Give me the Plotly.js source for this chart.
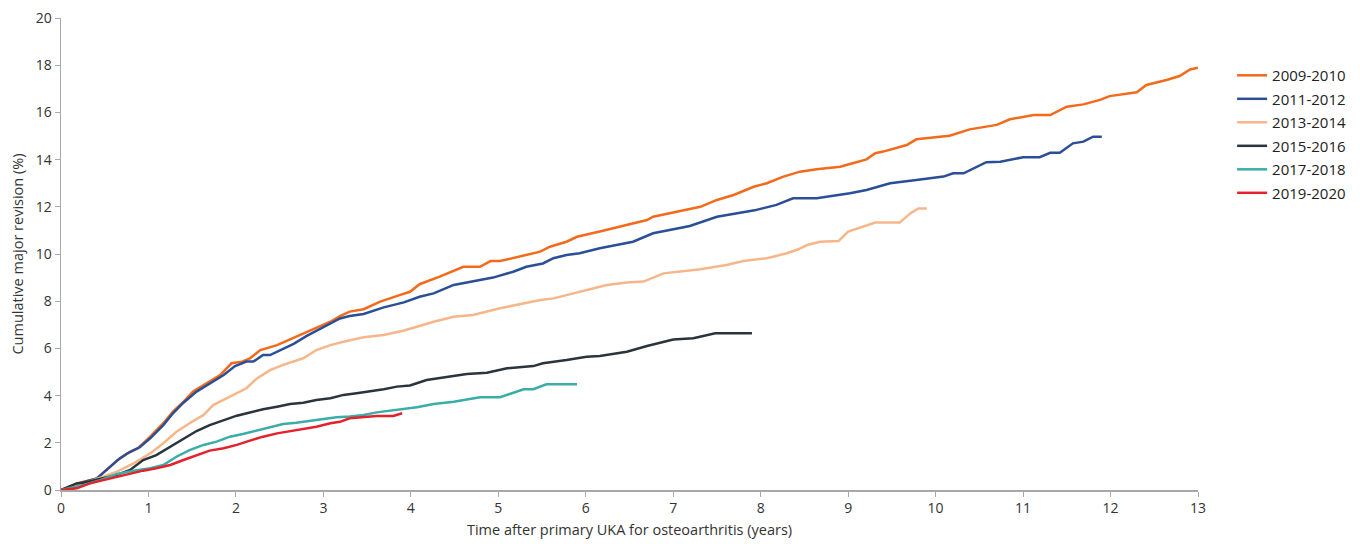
<!DOCTYPE html>
<html>
<head>
<meta charset="utf-8">
<script src="https://cdn.plot.ly/plotly-3.0.1.min.js"></script>
<style>html,body{margin:0;padding:0;background:#fff;}#chart{width:1360px;height:544px;}</style>
</head>
<body>
<div id="chart"></div>
<script>
const seriesNames = ["2009-2010","2011-2012","2013-2014","2015-2016","2017-2018","2019-2020"];
const seriesColors = ["#F26A1B","#2A4F96","#F7B689","#2A343B","#3AADA8","#E3222B"];

const x2009 = [0,0.18,0.41,0.48,0.64,0.75,0.88,1.02,1.17,1.28,1.40,1.51,1.67,1.82,1.95,2.07,2.16,2.28,2.47,2.62,2.77,2.92,3.08,3.19,3.30,3.46,3.65,3.88,3.99,4.10,4.33,4.60,4.79,4.91,5.02,5.48,5.59,5.78,5.90,6.16,6.70,6.77,7.31,7.50,7.69,7.92,8.07,8.26,8.45,8.64,8.91,9.02,9.21,9.31,9.40,9.67,9.78,10.16,10.39,10.70,10.85,11.12,11.31,11.50,11.69,11.88,11.99,12.30,12.41,12.64,12.79,12.91,13.0];
const y2009 = [0,0.28,0.49,0.71,1.24,1.53,1.77,2.26,2.83,3.32,3.74,4.17,4.55,4.87,5.37,5.44,5.58,5.93,6.14,6.38,6.64,6.85,7.13,7.37,7.56,7.66,7.98,8.27,8.40,8.72,9.04,9.46,9.46,9.70,9.70,10.10,10.31,10.52,10.73,10.95,11.44,11.58,12.0,12.29,12.5,12.85,13.0,13.28,13.49,13.59,13.70,13.81,14.01,14.27,14.34,14.62,14.86,15.01,15.28,15.47,15.71,15.89,15.89,16.24,16.34,16.53,16.69,16.85,17.16,17.37,17.54,17.82,17.89];

const x2011 = [0,0.18,0.41,0.52,0.67,0.79,0.90,1.02,1.17,1.28,1.40,1.55,1.70,1.86,1.99,2.12,2.20,2.31,2.39,2.54,2.66,2.81,2.92,3.08,3.19,3.30,3.46,3.69,3.92,4.10,4.26,4.49,4.71,4.94,5.17,5.32,5.51,5.63,5.78,5.93,6.16,6.35,6.54,6.77,7.0,7.19,7.50,7.76,7.93,8.18,8.37,8.64,9.02,9.21,9.48,9.78,10.09,10.20,10.32,10.58,10.74,11.0,11.19,11.31,11.42,11.57,11.69,11.80,11.90];
const y2011 = [0,0.25,0.49,0.85,1.34,1.62,1.81,2.19,2.75,3.25,3.70,4.17,4.52,4.87,5.25,5.44,5.44,5.72,5.72,6.0,6.19,6.53,6.74,7.06,7.27,7.37,7.46,7.74,7.95,8.19,8.33,8.69,8.83,9.0,9.25,9.46,9.6,9.82,9.96,10.03,10.24,10.38,10.52,10.88,11.06,11.19,11.58,11.75,11.85,12.08,12.36,12.36,12.57,12.71,13.0,13.14,13.28,13.42,13.42,13.89,13.91,14.10,14.10,14.29,14.29,14.69,14.76,14.97,14.97];

const x2013 = [0,0.26,0.45,0.64,0.83,1.02,1.17,1.32,1.47,1.63,1.74,1.89,2.01,2.12,2.24,2.39,2.54,2.77,2.92,3.08,3.23,3.46,3.69,3.91,4.07,4.26,4.49,4.71,5.02,5.29,5.48,5.63,5.86,6.01,6.24,6.47,6.66,6.89,7.19,7.31,7.61,7.80,8.07,8.30,8.43,8.53,8.68,8.89,9.0,9.17,9.31,9.59,9.71,9.80,9.90];
const y2013 = [0,0.28,0.52,0.78,1.13,1.55,1.98,2.47,2.83,3.18,3.60,3.89,4.10,4.31,4.73,5.08,5.30,5.58,5.93,6.14,6.28,6.47,6.57,6.75,6.92,7.13,7.34,7.42,7.70,7.91,8.05,8.12,8.33,8.47,8.69,8.79,8.83,9.18,9.32,9.35,9.53,9.70,9.82,10.03,10.20,10.38,10.52,10.55,10.95,11.16,11.33,11.33,11.72,11.93,11.93];

const x2015 = [0,0.18,0.26,0.45,0.64,0.79,0.94,1.09,1.25,1.40,1.55,1.70,1.86,2.01,2.16,2.31,2.47,2.62,2.77,2.92,3.08,3.23,3.38,3.53,3.69,3.84,3.99,4.18,4.45,4.64,4.87,5.10,5.40,5.51,5.78,6.01,6.16,6.47,6.70,7.0,7.23,7.48,7.90];
const y2015 = [0,0.28,0.31,0.49,0.64,0.85,1.27,1.48,1.84,2.19,2.50,2.75,2.97,3.15,3.28,3.42,3.53,3.64,3.70,3.81,3.89,4.03,4.10,4.17,4.27,4.38,4.43,4.66,4.80,4.92,4.97,5.16,5.25,5.37,5.51,5.65,5.68,5.86,6.10,6.38,6.43,6.64,6.64];

const x2017 = [0,0.26,0.45,0.64,0.83,1.02,1.17,1.32,1.47,1.63,1.78,1.93,2.08,2.24,2.39,2.54,2.69,2.85,3.0,3.15,3.30,3.46,3.61,3.76,3.91,4.07,4.26,4.49,4.79,5.02,5.13,5.29,5.40,5.55,5.90];
const y2017 = [0,0.21,0.42,0.68,0.82,0.92,1.06,1.41,1.69,1.91,2.05,2.26,2.37,2.51,2.66,2.80,2.85,2.94,3.0,3.08,3.11,3.18,3.29,3.36,3.44,3.51,3.64,3.74,3.93,3.93,4.07,4.27,4.27,4.48,4.48];

const x2019 = [0,0.18,0.33,0.48,0.64,0.79,0.94,1.09,1.25,1.40,1.55,1.70,1.86,2.01,2.16,2.31,2.47,2.62,2.77,2.92,3.08,3.19,3.30,3.46,3.61,3.80,3.90];
const y2019 = [0,0.07,0.28,0.42,0.56,0.71,0.82,0.92,1.06,1.27,1.48,1.67,1.77,1.91,2.09,2.26,2.40,2.50,2.57,2.68,2.83,2.89,3.04,3.08,3.14,3.14,3.25];

const xTickVals = [0,1,2,3,4,5,6,7,8,9,10,11,12,13];
const yTickVals = [0,2,4,6,8,10,12,14,16,18,20];

const xs = [x2009,x2011,x2013,x2015,x2017,x2019];
const ys = [y2009,y2011,y2013,y2015,y2017,y2019];

const traces = seriesNames.map((n,i)=>({
  type:'scatter', mode:'lines', name:n, x:xs[i], y:ys[i],
  legendgroup:'g'+i,
  line:{color:seriesColors[i], width:2.5}
}));

const fam = '"Open Sans", "Noto Sans", sans-serif';
const axisFont = {family:fam, size:14, color:'#333'};
const layout = {
  width:1360, height:544,
  margin:{l:61, r:162, t:18, b:54, autoexpand:false},
  paper_bgcolor:'#fff', plot_bgcolor:'#fff',
  showlegend:true,
  legend:{x:1.03, xanchor:'left', y:0.913, yanchor:'top', font:{family:fam, size:15, color:'#222'}, tracegroupgap:1, traceorder:'grouped', bgcolor:'rgba(0,0,0,0)'},
  xaxis:{range:[0,13], tickvals:xTickVals, ticktext:xTickVals.map(String), showgrid:false, zeroline:false,
    showline:true, linecolor:'#A8A8A8', linewidth:1.5, ticks:'outside', ticklen:5, tickcolor:'#A8A8A8',
    tickfont:axisFont, title:{text:'Time after primary UKA for osteoarthritis (years)', font:{family:fam, size:14.5, color:'#333'}, standoff:8}},
  yaxis:{range:[0,20], tickvals:yTickVals, ticktext:yTickVals.map(String), showgrid:false, zeroline:false,
    showline:true, linecolor:'#A8A8A8', linewidth:1.5, ticks:'outside', ticklen:5, tickcolor:'#A8A8A8',
    tickfont:axisFont, title:{text:'Cumulative major revision (%)', font:{family:fam, size:14.5, color:'#333'}, standoff:8}}
};
Plotly.newPlot('chart', traces, layout, {displayModeBar:false, staticPlot:true});
</script>
</body>
</html>
